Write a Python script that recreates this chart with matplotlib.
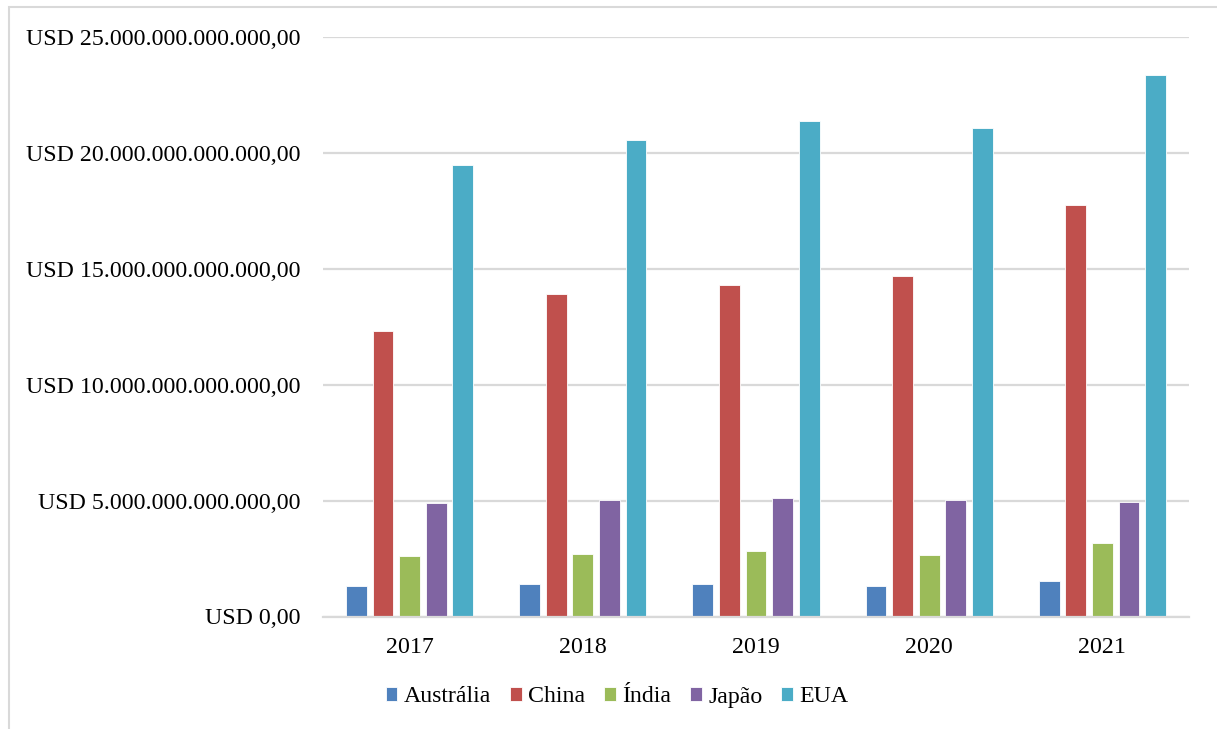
import matplotlib
matplotlib.use("Agg")
import matplotlib.pyplot as plt
import numpy as np
from matplotlib.patches import Rectangle
from matplotlib.ticker import FuncFormatter

years = ["2017", "2018", "2019", "2020", "2021"]
countries = ["Austrália", "China", "Índia", "Japão", "EUA"]
australia = [1.30e12, 1.40e12, 1.38e12, 1.30e12, 1.55e12]
china = [12.31e12, 13.91e12, 14.28e12, 14.69e12, 17.73e12]
india = [2.62e12, 2.69e12, 2.81e12, 2.64e12, 3.16e12]
japan = [4.91e12, 5.02e12, 5.11e12, 5.02e12, 4.92e12]
eua = [19.47e12, 20.53e12, 21.38e12, 21.06e12, 23.34e12]
series = [australia, china, india, japan, eua]
colors = ["#4F81BD", "#C0504D", "#9BBB59", "#8064A2", "#4BACC6"]

plt.rcParams['font.family'] = ['Liberation Serif', 'DejaVu Serif']

W, H = 1217, 729
fig = plt.figure(figsize=(W / 100, H / 100), dpi=100)
ax = fig.add_axes([323 / W, (H - 616.5) / H, (1189 - 323) / W, (616.5 - 36.7) / H])

x = np.arange(len(years))
step = 0.1536
width = 0.121
for i, (vals, c, name) in enumerate(zip(series, colors, countries)):
    ax.bar(x + (i - 2) * step, vals, width=width, color=c, label=name,
           edgecolor="white", linewidth=0.6, zorder=3)

ax.set_xlim(-0.5, len(years) - 0.5)
ax.set_ylim(0, 25e12)
ax.set_yticks(np.arange(0, 25e12 + 1, 5e12))

def fmt(v, pos):
    s = f"{int(round(v)):,}".replace(",", ".")
    return f"USD {s},00"

ax.yaxis.set_major_formatter(FuncFormatter(fmt))
ax.set_xticks(x)
ax.set_xticklabels(years)
ax.tick_params(axis="both", length=0, labelsize=17.2, colors="black")
ax.tick_params(axis="y", pad=16.5)
ax.tick_params(axis="x", pad=14.5)
ax.grid(axis="y", color="#D9D9D9", linewidth=1.6, zorder=0)
for s in ["top", "right", "left"]:
    ax.spines[s].set_visible(False)
ax.spines["bottom"].set_color("#D9D9D9")
ax.spines["bottom"].set_linewidth(1.6)
ax.spines["bottom"].set_zorder(4)

leg = fig.legend(loc="center", bbox_to_anchor=(617 / W, (H - 697) / H), ncol=5,
                 frameon=False, fontsize=17.2, handlelength=0.5, handleheight=0.5,
                 handletextpad=0.25, columnspacing=0.8)

fig.patches.append(Rectangle((9 / W, -0.1), 1.2, (H - 7) / H + 0.1, transform=fig.transFigure,
                             fill=False, edgecolor="#D9D9D9", linewidth=1.5))

fig.savefig("out.png", dpi=100)
